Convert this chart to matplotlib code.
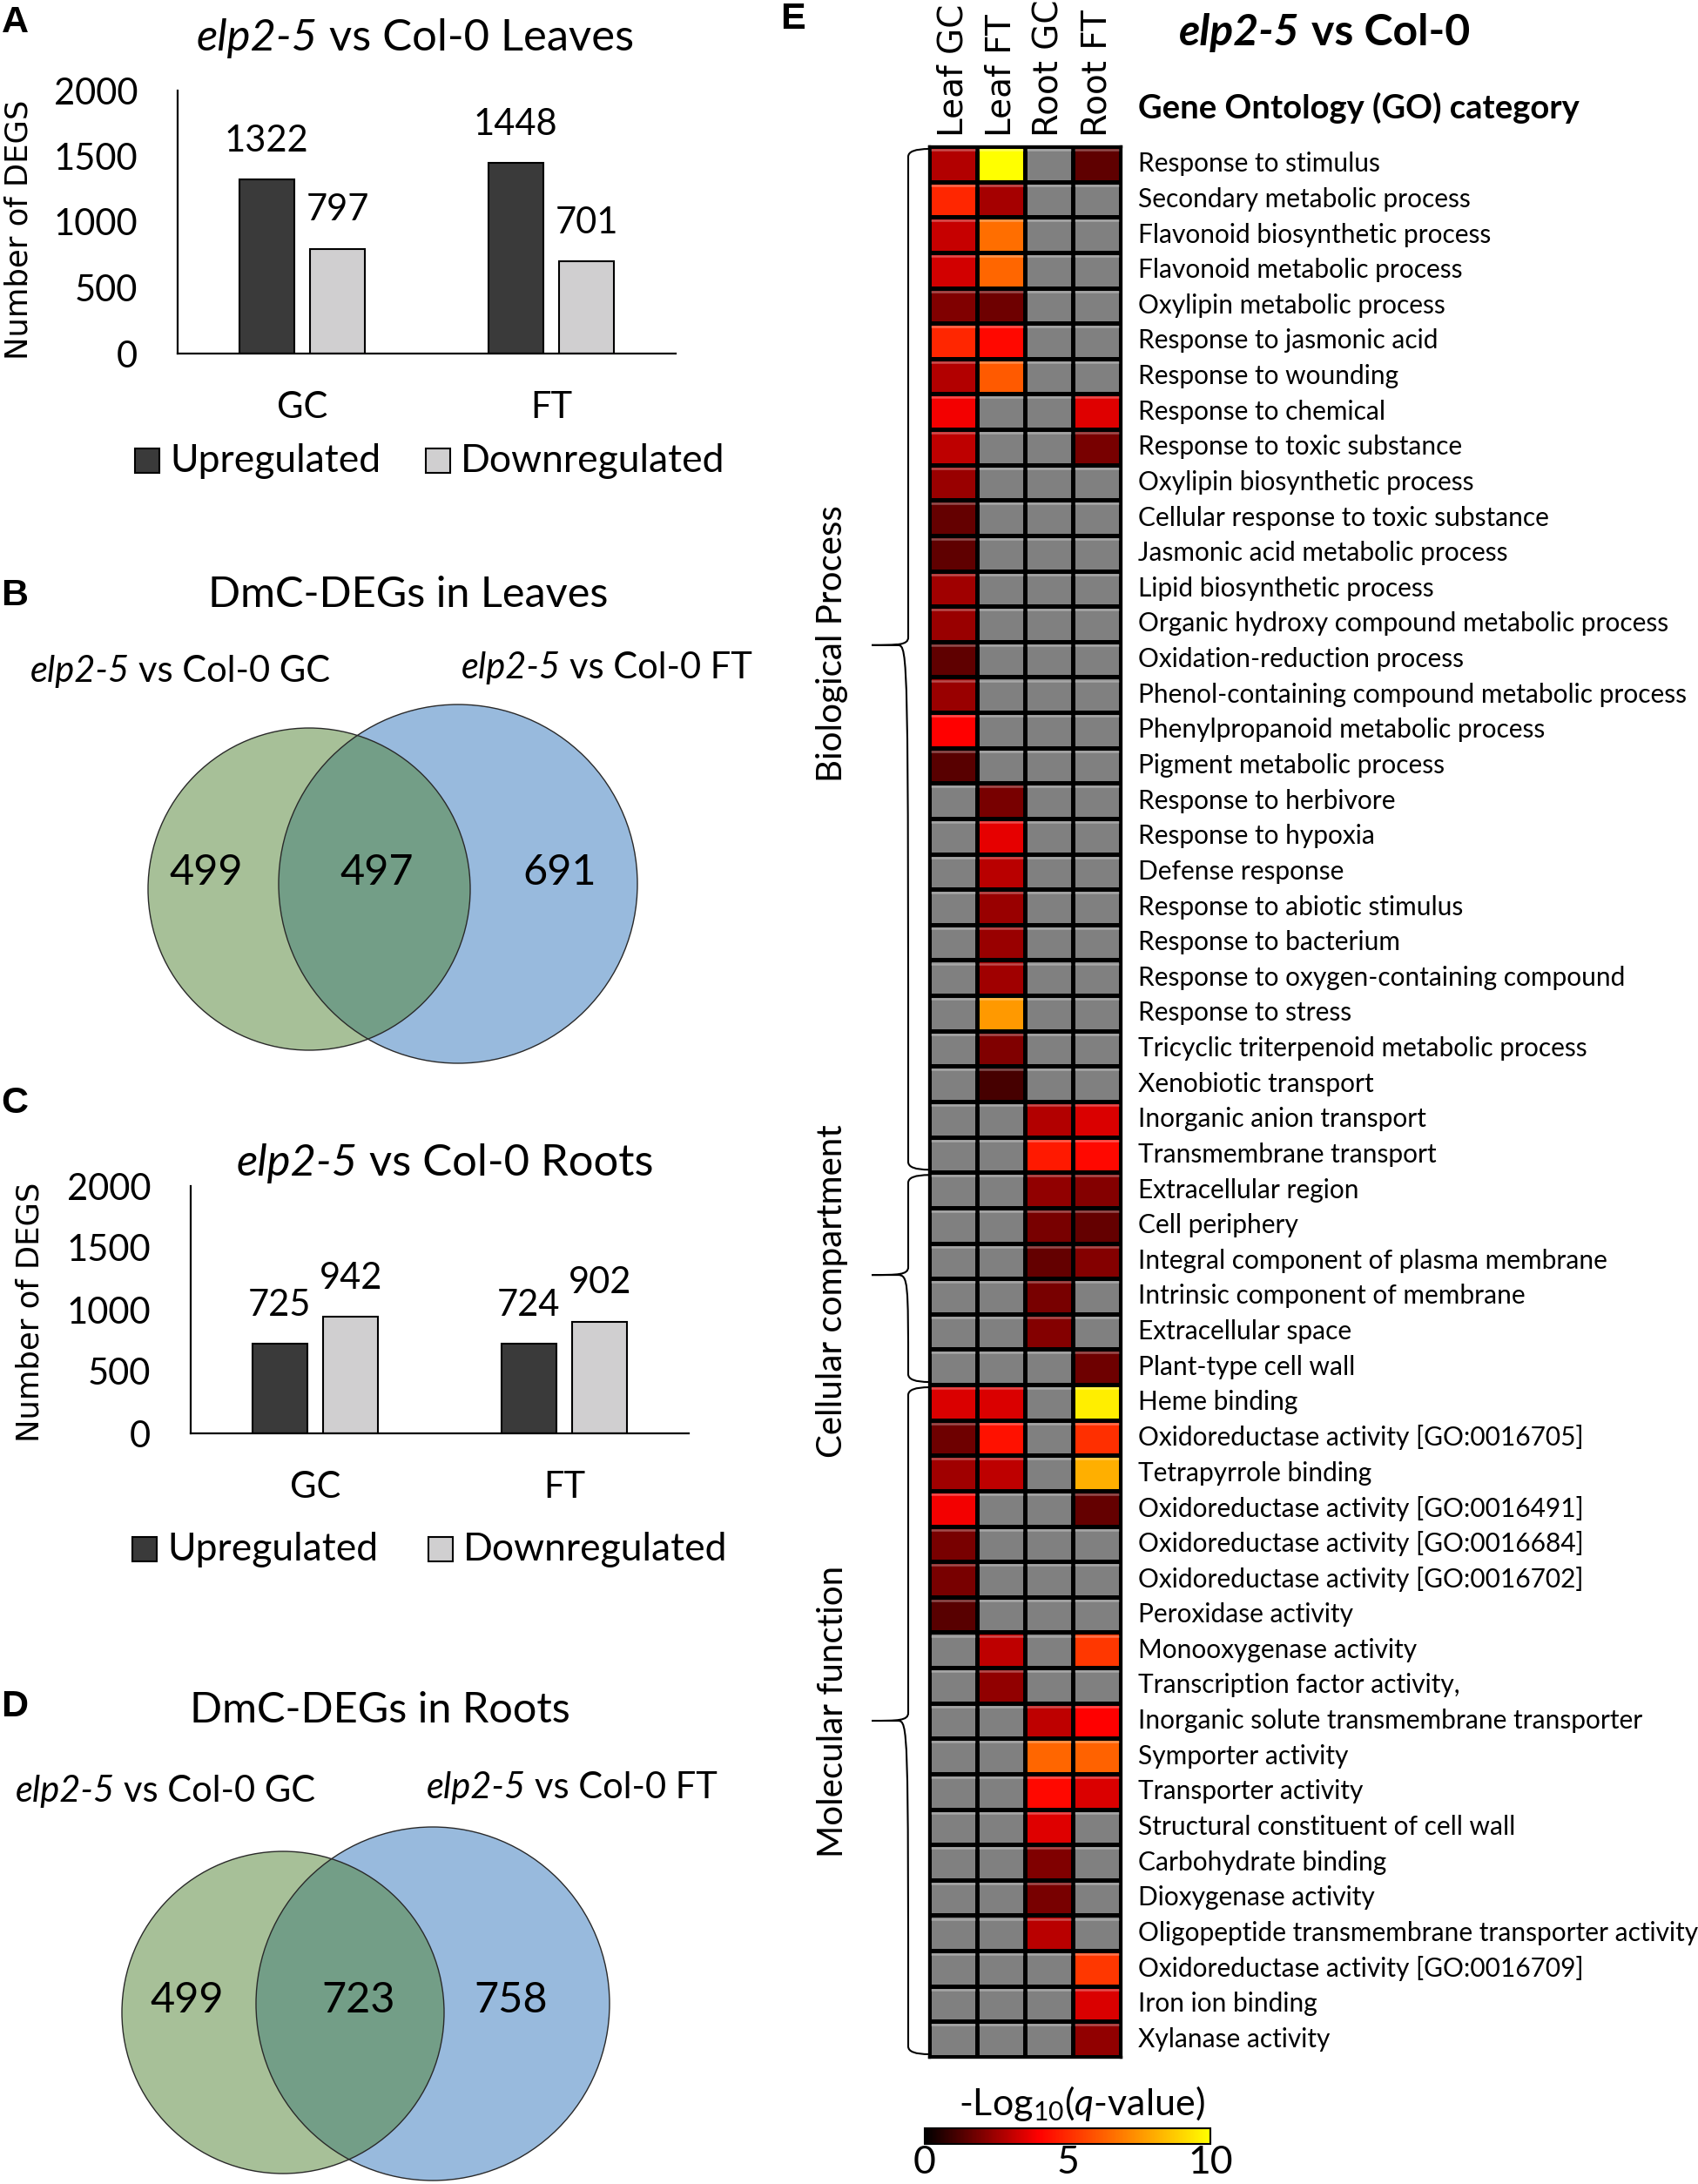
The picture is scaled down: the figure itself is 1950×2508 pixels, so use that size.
import matplotlib
matplotlib.use('agg')
import matplotlib.pyplot as plt
import numpy as np
from matplotlib.patches import Rectangle, Circle
from matplotlib.path import Path
from matplotlib.patches import PathPatch
from matplotlib.collections import LineCollection
from matplotlib.colors import LinearSegmentedColormap
from matplotlib.cm import ScalarMappable
from matplotlib.colors import Normalize

plt.rcParams['font.family'] = ['Lato', 'DejaVu Sans']
plt.rcParams['mathtext.fontset'] = 'custom'
plt.rcParams['mathtext.rm'] = 'Lato'
plt.rcParams['mathtext.it'] = 'Lato:italic'

nan = np.nan

# ---- data ----
groups = ['GC', 'FT']
leaf_up = [1322, 1448]
leaf_down = [797, 701]
root_up = [725, 724]
root_down = [942, 902]

venn_leaves = [499, 497, 691]
venn_roots = [499, 723, 758]

columns = ['Leaf GC', 'Leaf FT', 'Root GC', 'Root FT']
go_groups = ['Biological Process', 'Cellular compartment', 'Molecular function']
go_group_sizes = [29, 6, 19]
terms = [
    'Response to stimulus', 'Secondary metabolic process', 'Flavonoid biosynthetic process',
    'Flavonoid metabolic process', 'Oxylipin metabolic process', 'Response to jasmonic acid',
    'Response to wounding', 'Response to chemical', 'Response to toxic substance',
    'Oxylipin biosynthetic process', 'Cellular response to toxic substance',
    'Jasmonic acid metabolic process', 'Lipid biosynthetic process',
    'Organic hydroxy compound metabolic process', 'Oxidation-reduction process',
    'Phenol-containing compound metabolic process', 'Phenylpropanoid metabolic process',
    'Pigment metabolic process', 'Response to herbivore', 'Response to hypoxia',
    'Defense response', 'Response to abiotic stimulus', 'Response to bacterium',
    'Response to oxygen-containing compound', 'Response to stress',
    'Tricyclic triterpenoid metabolic process', 'Xenobiotic transport',
    'Inorganic anion transport', 'Transmembrane transport',
    'Extracellular region', 'Cell periphery', 'Integral component of plasma membrane',
    'Intrinsic component of membrane', 'Extracellular space', 'Plant-type cell wall',
    'Heme binding', 'Oxidoreductase activity [GO:0016705]', 'Tetrapyrrole binding',
    'Oxidoreductase activity [GO:0016491]', 'Oxidoreductase activity [GO:0016684]',
    'Oxidoreductase activity [GO:0016702]', 'Peroxidase activity', 'Monooxygenase activity',
    'Transcription factor activity,', 'Inorganic solute transmembrane transporter',
    'Symporter activity', 'Transporter activity', 'Structural constituent of cell wall',
    'Carbohydrate binding', 'Dioxygenase activity',
    'Oligopeptide transmembrane transporter activity', 'Oxidoreductase activity [GO:0016709]',
    'Iron ion binding', 'Xylanase activity',
]

# -log10(q) per column, nan = not enriched (grey)
leaf_gc = [2.8, 4.9, 3.1, 3.3, 2.0, 4.9, 2.8, 3.8, 3.0, 2.4, 1.6, 1.5, 2.5, 2.4, 1.5, 2.4, 4.0, 1.4,
           nan, nan, nan, nan, nan, nan, nan, nan, nan, nan, nan, nan, nan, nan, nan, nan, nan,
           3.4, 1.75, 2.5, 3.8, 1.9, 1.9, 1.4,
           nan, nan, nan, nan, nan, nan, nan, nan, nan, nan, nan, nan]
leaf_ft = [10.0, 2.6, 6.6, 6.4, 1.75, 4.2, 6.1,
           nan, nan, nan, nan, nan, nan, nan, nan, nan, nan, nan,
           1.9, 3.6, 2.9, 2.4, 2.4, 2.5, 7.6, 2.0, 1.1,
           nan, nan, nan, nan, nan, nan, nan, nan,
           3.4, 4.4, 3.0, nan, nan, nan, nan, 3.0, 2.3,
           nan, nan, nan, nan, nan, nan, nan, nan, nan, nan]
root_gc = [nan] * 27 + [2.8, 4.6, 2.3, 1.9, 1.6, 1.9, 2.1, nan] + [nan] * 9 + \
          [3.0, 6.4, 4.2, 3.5, 2.0, 1.9, 2.9, nan, nan, nan]
root_ft = [1.5, nan, nan, nan, nan, nan, nan, 3.5, 1.9] + [nan] * 18 + \
          [3.4, 4.2, 2.1, 1.6, 2.1, nan, nan, 1.75,
           9.6, 5.1, 8.1, 1.6, nan, nan, nan, 5.3, nan, 4.0, 6.3, 3.4,
           nan, nan, nan, nan, 5.3, 3.4, 2.3]

W, H = 1950, 2508
fig = plt.figure(figsize=(W / 100, H / 100), dpi=100)
renderer = fig.canvas.get_renderer()

# overlay axes in pixel units (y down) for free text, venn and braces
ov = fig.add_axes([0, 0, 1, 1])
ov.set_xlim(0, W)
ov.set_ylim(H, 0)
ov.axis('off')


def frac(l, t, r, b):
    return [l / W, 1 - b / H, (r - l) / W, (b - t) / H]


def mixed(x, y, parts, size):
    # italic / upright runs laid side by side, centred on x
    probe = ov.text(0, 0, 'x x', fontsize=size)
    probe2 = ov.text(0, 0, 'xx', fontsize=size)
    gap = probe.get_window_extent(renderer).width - probe2.get_window_extent(renderer).width
    probe.remove()
    probe2.remove()
    arts = []
    for t, st, wt in parts:
        arts.append(ov.text(0, y, t, fontsize=size, fontstyle=st, fontweight=wt,
                            ha='left', va='center'))
    widths = [a.get_window_extent(renderer).width for a in arts]
    total = sum(widths) + gap * (len(arts) - 1)
    cx = x - total / 2
    for a, w in zip(arts, widths):
        a.set_x(cx)
        cx += w + gap


def panel_letter(x, y, s):
    ov.text(x, y, s, fontsize=31, fontweight='bold', family='Liberation Sans',
            ha='center', va='center')


DARK = '#3a3a3a'
LIGHT = '#d0cfd0'


def bar_panel(rect, up, down, legend_y, legend_x):
    ax = fig.add_axes(frac(*rect))
    ax.set_facecolor('none')
    x = np.arange(len(groups)) + 0.5
    ax.bar(x - 0.143, up, 0.22, color=DARK, edgecolor='black', linewidth=1.5)
    ax.bar(x + 0.143, down, 0.22, color=LIGHT, edgecolor='black', linewidth=1.5)
    for xi, v in zip(x - 0.143, up):
        ax.annotate(str(v), (xi, v), xytext=(0, 32), textcoords='offset points',
                    ha='center', va='center', fontsize=30)
    for xi, v in zip(x + 0.143, down):
        ax.annotate(str(v), (xi, v), xytext=(0, 32), textcoords='offset points',
                    ha='center', va='center', fontsize=30)
    ax.set_xlim(0, 2)
    ax.set_ylim(0, 2000)
    ax.set_yticks([0, 500, 1000, 1500, 2000])
    ax.set_xticks(x)
    ax.set_xticklabels(groups)
    ax.tick_params(axis='y', length=0, pad=33, labelsize=30)
    ax.tick_params(axis='x', length=0, pad=31, labelsize=30)
    for s in ['top', 'right']:
        ax.spines[s].set_visible(False)
    for s in ['left', 'bottom']:
        ax.spines[s].set_linewidth(1.6)
    # legend
    for lx, col, lab in zip(legend_x, [DARK, LIGHT], ['Upregulated', 'Downregulated']):
        ov.add_patch(Rectangle((lx, legend_y - 14), 28, 28, facecolor=col,
                               edgecolor='black', linewidth=1.5))
        ov.text(lx + 40, legend_y, lab, fontsize=32, ha='left', va='center')
    return ax


# ---- panel A ----
panel_letter(17, 26, 'A')
mixed(477, 44, [('elp2-5', 'italic', 'normal'), ('vs Col-0 Leaves', 'normal', 'normal')], 36.5)
bar_panel((204, 104, 776, 406), leaf_up, leaf_down, 529, [155, 489])
ov.text(22, 264, 'Number of DEGS', rotation=90, fontsize=25.5, family='DejaVu Sans',
        ha='center', va='center')

# ---- panel C ----
panel_letter(17, 1267, 'C')
mixed(511, 1336, [('elp2-5', 'italic', 'normal'), ('vs Col-0 Roots', 'normal', 'normal')], 36.5)
bar_panel((219, 1362, 791, 1646), root_up, root_down, 1779, [152, 492])
ov.text(35, 1507, 'Number of DEGS', rotation=90, fontsize=25.5, family='DejaVu Sans',
        ha='center', va='center')

# ---- Venn panels ----
GREEN = '#a7c098'
BLUE = '#98badd'
OVER = '#739e87'


def venn(c1, r1, c2, r2, counts, num_y, num_x):
    b = Circle(c2, r2, facecolor=BLUE, edgecolor='none')
    g = Circle(c1, r1, facecolor=GREEN, edgecolor='none')
    ov.add_patch(b)
    ov.add_patch(g)
    o = Circle(c1, r1, facecolor=OVER, edgecolor='none')
    ov.add_patch(o)
    o.set_clip_path(b)
    ov.add_patch(Circle(c1, r1, facecolor='none', edgecolor='#2a2a2a', linewidth=1.0))
    ov.add_patch(Circle(c2, r2, facecolor='none', edgecolor='#2a2a2a', linewidth=1.0))
    for xx, n in zip(num_x, counts):
        ov.text(xx, num_y, str(n), fontsize=35, ha='center', va='center')


panel_letter(17, 684, 'B')
ov.text(469, 683, 'DmC-DEGs in Leaves', fontsize=35, ha='center', va='center')
mixed(207, 771, [('elp2-5', 'italic', 'normal'), ('vs Col-0 GC', 'normal', 'normal')], 30)
mixed(697, 767, [('elp2-5', 'italic', 'normal'), ('vs Col-0 FT', 'normal', 'normal')], 30)
venn((355, 1021), 185, (526, 1015), 206, venn_leaves, 1002, [237, 433, 643])

panel_letter(17, 1960, 'D')
ov.text(436, 1964, 'DmC-DEGs in Roots', fontsize=35, ha='center', va='center')
mixed(190, 2057, [('elp2-5', 'italic', 'normal'), ('vs Col-0 GC', 'normal', 'normal')], 30)
mixed(657, 2053, [('elp2-5', 'italic', 'normal'), ('vs Col-0 FT', 'normal', 'normal')], 30)
venn((325, 2311), 185, (497, 2301), 203, venn_roots, 2297, [215, 412, 587])

# ---- panel E heatmap ----
panel_letter(910, 22, 'E')
mixed(1521, 38, [('elp2-5', 'italic', 'bold'), ('vs Col-0', 'normal', 'bold')], 36)
ov.text(1307, 124, 'Gene Ontology (GO) category', fontsize=27.5, fontweight='bold',
        ha='left', va='center')

cmap = LinearSegmentedColormap.from_list('q', [(0, '#000000'), (0.4, '#ff0000'), (1, '#ffff00')])
cmap.set_bad('#808080')
data = np.ma.masked_invalid(np.array([leaf_gc, leaf_ft, root_gc, root_ft]).T)
nrow = len(terms)

hx = fig.add_axes(frac(1067, 168, 1287, 2362))
hx.pcolormesh(np.arange(5), np.arange(nrow + 1), data, cmap=cmap, vmin=0, vmax=10,
              edgecolors='black', linewidth=2.4)
hx.set_xlim(0, 4)
hx.set_ylim(nrow, 0)
hx.set_xticks([])
hx.set_yticks([])
for s in hx.spines.values():
    s.set_linewidth(2.4)
# light bevel along top of each cell
segs = [[(c + 0.04, r + 0.1), (c + 0.96, r + 0.1)] for r in range(nrow) for c in range(4)]
hx.add_collection(LineCollection(segs, colors='white', alpha=0.3, linewidths=1.8))

for r, t in enumerate(terms):
    hx.text(4.36, r + 0.5, t, fontsize=21.5, ha='left', va='center', clip_on=False)
for c, t in enumerate(columns):
    hx.text(c + 0.5, -0.27, t, fontsize=28, family='DejaVu Sans', rotation=90,
            ha='center', va='bottom', clip_on=False)

# braces + group labels (tip and label positions in row units)
row_h = (2362 - 168) / nrow
brace_tip_rows = [14.1, 31.9, 44.5]
label_rows = [14.05, 32.35, 44.25]


def brace(y0, y1, ym, x_line=1043, x_tip=1001, x_end=1067, c=9):
    verts = [(x_end, y0), (x_line, y0), (x_line, y0 + c),
             (x_line, ym - c),
             (x_line, ym), (x_line - 12, ym), (x_tip, ym),
             (x_line - 12, ym), (x_line, ym), (x_line, ym + c),
             (x_line, y1 - c),
             (x_line, y1), (x_end, y1)]
    codes = [Path.MOVETO, Path.CURVE3, Path.CURVE3, Path.LINETO,
             Path.CURVE4, Path.CURVE4, Path.LINETO,
             Path.LINETO, Path.CURVE4, Path.CURVE4,
             Path.LINETO, Path.CURVE3, Path.CURVE3]
    ov.add_patch(PathPatch(Path(verts, codes), facecolor='none', edgecolor='black',
                           linewidth=1.5))


start = 0
for name, n, tr, lr in zip(go_groups, go_group_sizes, brace_tip_rows, label_rows):
    y0 = 168 + start * row_h + 3
    y1 = 168 + (start + n) * row_h - 3
    brace(y0, y1, 168 + tr * row_h)
    ov.text(956, 168 + lr * row_h, name, fontsize=29, rotation=90, ha='center', va='center')
    start += n

# colour bar
cax = fig.add_axes(frac(1062, 2444, 1390, 2462))
cb = fig.colorbar(ScalarMappable(norm=Normalize(0, 10), cmap=cmap), cax=cax,
                  orientation='horizontal')
cb.set_ticks([0, 5, 10])
cb.ax.tick_params(length=0, pad=1, labelsize=32)
cb.outline.set_linewidth(1.5)
ov.text(1242, 2416, '-Log$_{10}$($\\mathit{q}$-value)', fontsize=31, ha='center', va='center')

fig.savefig('out.png', dpi=100)
